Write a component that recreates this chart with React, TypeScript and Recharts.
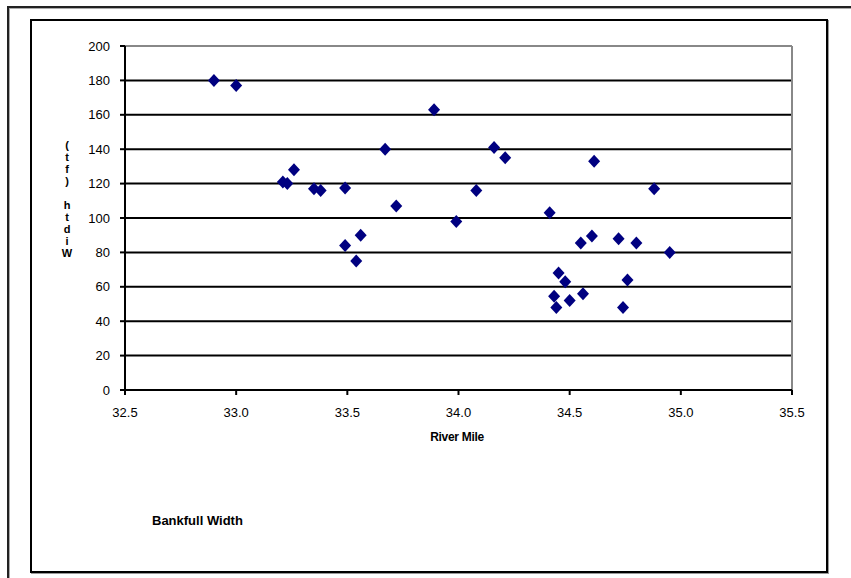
import React from 'react';
import { ScatterChart, Scatter, XAxis, YAxis, CartesianGrid, ReferenceLine } from 'recharts';

const riverMile = [32.9, 33.0, 33.89, 33.67, 34.16, 34.21, 34.61, 33.26, 33.21, 33.23, 33.35, 33.38, 33.49, 34.08, 34.88, 33.72, 33.99, 34.41, 33.49, 33.56, 33.54, 34.55, 34.6, 34.72, 34.8, 34.95, 34.45, 34.48, 34.76, 34.43, 34.44, 34.5, 34.56, 34.74];
const bankfullWidth = [180, 177, 163, 140, 141, 135, 133, 128, 121, 120, 117, 116, 117.5, 116, 117, 107, 98, 103, 84, 90, 75, 85.5, 89.5, 88, 85.5, 80, 68, 63, 64, 54.5, 48, 52, 56, 48];
const xTicks = [32.5, 33.0, 33.5, 34.0, 34.5, 35.0, 35.5];
const yTicks = [0, 20, 40, 60, 80, 100, 120, 140, 160, 180, 200];
const yTitle = 'Width (ft)';
const xTitle = 'River Mile';
const chartTitle = 'Bankfull Width';

const data = riverMile.map((x, i) => ({ x, y: bankfullWidth[i] }));

const FONT = '"Liberation Sans", Arial, sans-serif';

const Diamond = (props: any) => {
  const { cx, cy } = props;
  if (cx == null || cy == null) return null;
  const w = 6, h = 6.5;
  return <polygon points={`${cx},${cy - h} ${cx + w},${cy} ${cx},${cy + h} ${cx - w},${cy}`} fill="#000080" />;
};

export default function App() {
  return (
    <div style={{ position: 'absolute', left: 0, top: 0, width: 851, height: 578, background: '#fff', overflow: 'hidden' }}>
      {/* outer frame */}
      <div style={{ position: 'absolute', left: 7, top: 6, width: 860, height: 600, borderTop: '2px solid #222', borderLeft: '2px solid #222', boxShadow: 'inset 1px 1px 0 #aaa' }} />
      {/* inner frame */}
      <div style={{ position: 'absolute', left: 30, top: 19, width: 794, height: 550, border: '2px solid #000', boxShadow: '1px 1px 0 #999' }} />
      <div style={{ position: 'absolute', left: 0, top: 0 }}>
        <ScatterChart width={851} height={578} margin={{ top: 46, right: 59, bottom: 158, left: 65 }}>
          <CartesianGrid horizontal vertical={false} stroke="#000" strokeWidth={2} />
          <XAxis
            type="number"
            dataKey="x"
            domain={[32.5, 35.5]}
            ticks={xTicks}
            tickFormatter={(v: number) => v.toFixed(1)}
            interval={0}
            height={30}
            axisLine={{ stroke: '#000', strokeWidth: 2 }}
            tickLine={{ stroke: '#000', strokeWidth: 2 }}
            tickSize={5}
            tickMargin={13}
            tick={{ fill: '#000', fontSize: 13, fontFamily: FONT }}
          />
          <YAxis
            type="number"
            dataKey="y"
            domain={[0, 200]}
            ticks={yTicks}
            interval={0}
            width={60}
            axisLine={{ stroke: '#000', strokeWidth: 2 }}
            tickLine={{ stroke: '#000', strokeWidth: 2 }}
            tickSize={5}
            tickMargin={10}
            tick={{ fill: '#000', fontSize: 13, fontFamily: FONT }}
          />
          <ReferenceLine y={200} stroke="#888" strokeWidth={2} />
          <ReferenceLine x={35.5} stroke="#888" strokeWidth={2} />
          <Scatter data={data} shape={<Diamond />} isAnimationActive={false} />
        </ScatterChart>
      </div>
      {/* y title: upright characters stacked, reading bottom to top */}
      <div style={{ position: 'absolute', left: 59, top: 147, width: 16, height: 112, writingMode: 'vertical-rl', textOrientation: 'upright', direction: 'rtl', unicodeBidi: 'bidi-override', fontFamily: FONT, fontWeight: 'bold', fontSize: 11, lineHeight: '16px', color: '#000', whiteSpace: 'nowrap' }}>
        {yTitle}
      </div>
      <div style={{ position: 'absolute', left: 407, top: 430, width: 100, textAlign: 'center', fontFamily: FONT, fontWeight: 'bold', fontSize: 12, letterSpacing: -0.3, color: '#000' }}>{xTitle}</div>
      <div style={{ position: 'absolute', left: 152, top: 513, fontFamily: FONT, fontWeight: 'bold', fontSize: 13, color: '#000' }}>{chartTitle}</div>
    </div>
  );
}
